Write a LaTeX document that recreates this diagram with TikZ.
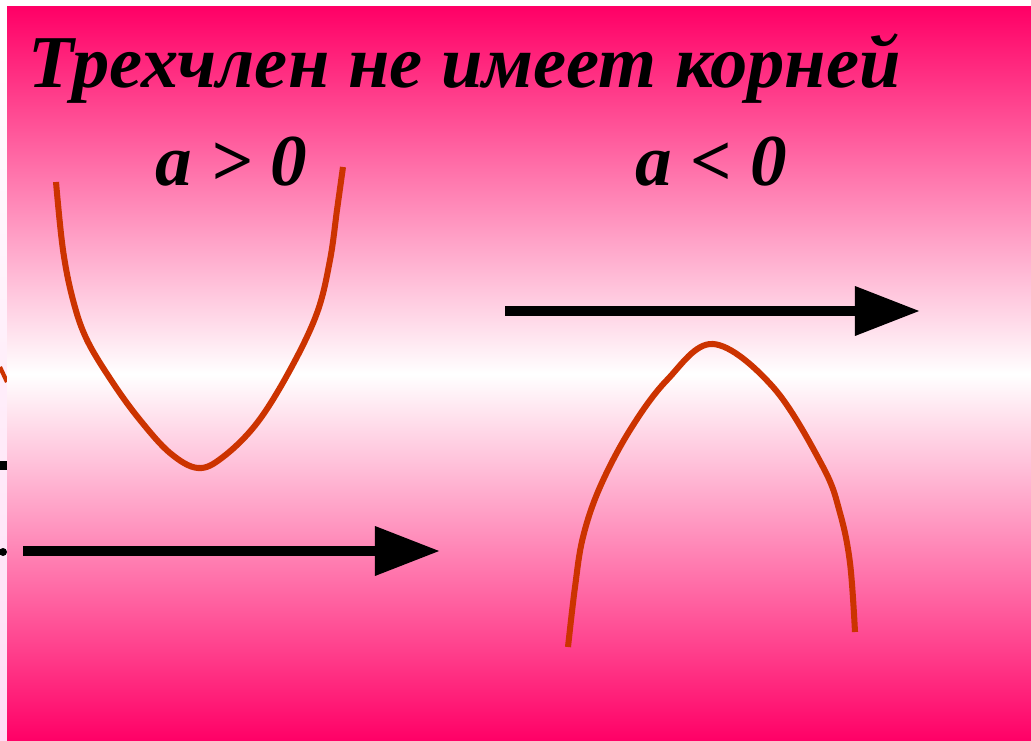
\documentclass[tikz,border=0pt]{standalone}
\usepackage{fontspec}
\setmainfont{Liberation Serif}
\usetikzlibrary{arrows.meta}
\definecolor{slidepink}{RGB}{255,0,102}
\definecolor{curvered}{RGB}{204,51,0}
\definecolor{edgepink}{RGB}{255,221,245}
\begin{document}
\begin{tikzpicture}[x=0.025cm,y=-0.025cm,
  every node/.style={font=\fontsize{52}{60}\selectfont\bfseries\itshape,inner sep=0pt},
  parab/.style={line width=4.3pt,curvered},
  axis/.style={line width=7.1pt,-{Triangle[length=1.625cm,width=1.175cm]}}]
\useasboundingbox (0,0) rectangle (1031,741);
% slide background
\fill[white] (0,0) rectangle (1031,741);
\shade[top color=white,bottom color=edgepink] (0,7) rectangle (7,741);
\fill (0,461) rectangle (7,470);
\fill (3,552) circle (4);
\draw[curvered,line width=3pt] (0,367) -- (7,382);
\shade[top color=slidepink,bottom color=slidepink,middle color=white] (7,7) rectangle (1031,741);
% labels
\node[anchor=base west,font=\fontsize{53}{60}\selectfont\bfseries\itshape] (title) at (28,88) {Трехчлен не имеет корней};
\node[anchor=base west] (apos) at (155,186) {a > 0};
\node[anchor=base west] (aneg) at (635,186) {a < 0};
% a > 0: parabola above the axis
\draw[parab] plot[smooth,tension=0.6] coordinates {(56,182) (63,250) (73,300) (87,340) (113,383) (140,420) (170,453) (198,468) (223,457) (257,423) (290,370) (317,313) (330,260) (337,210) (343,167)};
\coordinate (x1s) at (23,551);
\coordinate (x1e) at (440,551);
\draw[axis] (x1s) -- (x1e);
% a < 0: parabola below the axis
\coordinate (x2s) at (505,311);
\coordinate (x2e) at (920,311);
\draw[axis] (x2s) -- (x2e);
\draw[parab] plot[smooth,tension=0.6] coordinates {(568,647) (575,587) (583,537) (600,487) (630,430) (667,380) (713,344) (773,387) (823,467) (840,513) (850,563) (855,632)};
\end{tikzpicture}
\end{document}
